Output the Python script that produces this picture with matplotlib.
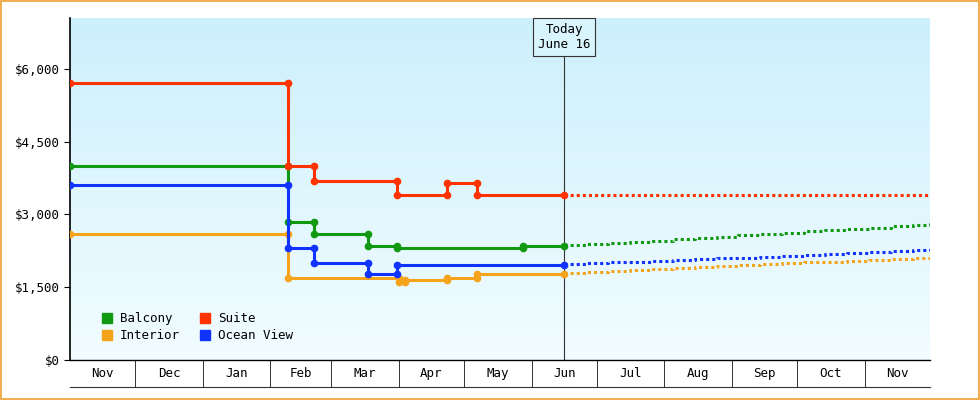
import numpy as np
import matplotlib
matplotlib.use("Agg")
import matplotlib.pyplot as plt
from matplotlib.patches import Rectangle

months = ["Nov","Dec","Jan","Feb","Mar","Apr","May","Jun","Jul","Aug","Sep","Oct","Nov"]
month_starts = [0,30,61,92,120,151,181,212,242,273,304,334,365,395]
today_day = 227

suite_days = [0,100,112,150,173,187]
suite_vals = [5700,4000,3700,3400,3650,3400]
balcony_days = [0,100,112,137,150,208]
balcony_vals = [4000,2850,2600,2350,2300,2350]
ocean_days = [0,100,112,137,150]
ocean_vals = [3600,2300,2000,1780,1950]
interior_days = [0,100,151,154,173,187]
interior_vals = [2600,1700,1600,1650,1700,1780]

fc_days = [227,237,247,257,267,277,287,297,307,317,327,337,347,357,367,377,387,395]
suite_fc = [3400]*18
balcony_fc = [2370,2390,2410,2440,2460,2490,2510,2540,2570,2600,2620,2650,2670,2700,2730,2760,2790,2820]
ocean_fc = [1970,1990,2010,2030,2040,2060,2080,2100,2110,2130,2150,2160,2180,2200,2220,2240,2260,2280]
interior_fc = [1790,1810,1830,1850,1870,1890,1910,1930,1950,1970,1990,2010,2030,2050,2070,2090,2110,2130]

fig = plt.figure(figsize=(9.8,4.0), dpi=100)
fig.patch.set_facecolor("white")
fig.add_artist(Rectangle((0.001,0.002),0.998,0.996,transform=fig.transFigure,fill=False,edgecolor="#f0a030",lw=1.2))
ax = fig.add_axes([70/980, 40/400, 860/980, 342/400])
xmax = 395
ymax = 7050
grad = np.linspace(0,1,256).reshape(-1,1)
top = np.array([0.80,0.94,0.99]); bot = np.array([0.95,0.99,1.0])
img = (top*(1-grad)[...,None] + bot*grad[...,None]).reshape(256,1,3)
ax.imshow(img, extent=[0,xmax,0,ymax], aspect="auto", origin="upper", zorder=0)
ax.set_xlim(0,xmax); ax.set_ylim(0,ymax)

def build(days, vals, end):
    xs=[];ys=[]
    for i,(d,v) in enumerate(zip(days,vals)):
        if i>0:
            xs.append(d); ys.append(vals[i-1])
        xs.append(d); ys.append(v)
    xs.append(end); ys.append(vals[-1])
    return xs, ys

series = [("Balcony",balcony_days,balcony_vals,balcony_fc,"#119911"),
          ("Suite",suite_days,suite_vals,suite_fc,"#ff3300"),
          ("Interior",interior_days,interior_vals,interior_fc,"#f5a31a"),
          ("Ocean View",ocean_days,ocean_vals,ocean_fc,"#1133ff")]
for name,d,v,fc,c in series:
    xs,ys = build(d,v,today_day)
    ax.plot(xs,ys,color=c,lw=2.2,marker="o",ms=4.5,zorder=3)
    ax.plot(fc_days,fc,color=c,lw=2.2,ls=(0,(1,1)),drawstyle="steps-post",zorder=3)

ax.axvline(today_day,color="#333333",lw=0.8,zorder=2)
ax.text(today_day,ymax-100,"Today\nJune 16",ha="center",va="top",family="DejaVu Sans Mono",fontsize=9,
        bbox=dict(boxstyle="square,pad=0.4",fc="#d8f4fc",ec="#333333",lw=0.8),zorder=5)

ax.set_yticks([0,1500,3000,4500,6000])
ax.set_yticklabels(["$0","$1,500","$3,000","$4,500","$6,000"],family="DejaVu Sans Mono",fontsize=9)
ax.tick_params(axis="y",length=4)
ax.set_xticks([])
for s in ["top","right"]:
    ax.spines[s].set_visible(False)
ax.spines["left"].set_linewidth(1.2)
ax.spines["bottom"].set_linewidth(1.0)

for i,m in enumerate(months):
    a,b = month_starts[i], month_starts[i+1]
    ax.text((a+b)/2,-0.04,m,transform=ax.get_xaxis_transform(),ha="center",va="center",
            family="DejaVu Sans Mono",fontsize=9)
    if i>0:
        ax.plot([a,a],[0,-0.08],transform=ax.get_xaxis_transform(),color="#333333",lw=0.7,clip_on=False)
ax.plot([0,xmax],[-0.08,-0.08],transform=ax.get_xaxis_transform(),color="#333333",lw=0.8,clip_on=False)

from matplotlib.lines import Line2D
order = [0,2,1,3]
handles=[Line2D([],[],color=series[i][4],marker="s",ls="none",ms=7) for i in order]
ax.legend(handles,[series[i][0] for i in order],ncol=2,loc="lower left",bbox_to_anchor=(0.015,0.02),
          frameon=False,prop={"family":"DejaVu Sans Mono","size":9},handletextpad=0.05,columnspacing=1.0,labelspacing=0.3)
fig.savefig("out.png",dpi=100)
